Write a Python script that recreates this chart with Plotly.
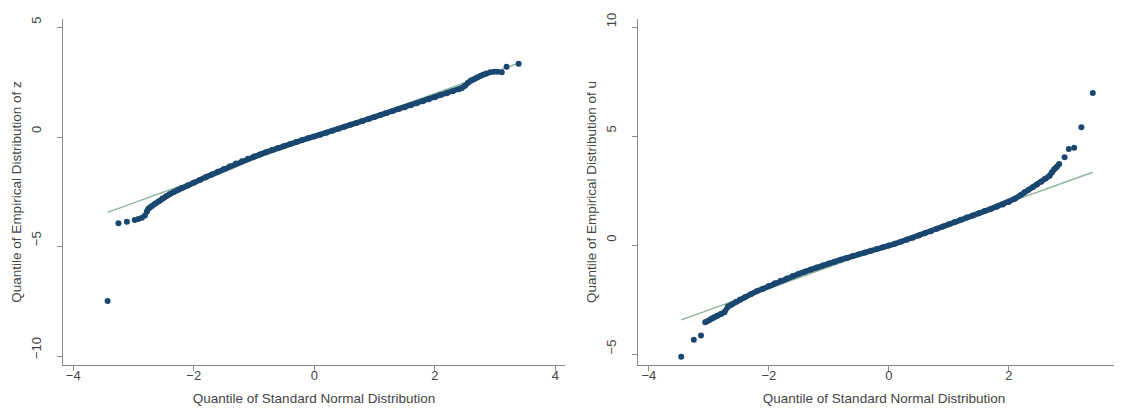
import plotly.graph_objects as go

# ---------------- data ----------------
# Left panel: z
z_theo = [-3.43, -3.25, -3.11, -2.98, -2.92, -2.86, -2.81, -2.78, -2.75, -2.70,
          -2.64, -2.58, -2.52, -2.46, -2.40, -2.33, -2.26, -2.20,
          -2.1, -2.0, -1.9, -1.8, -1.7, -1.6, -1.5, -1.4, -1.3, -1.2, -1.1, -1.0,
          -0.9, -0.8, -0.7, -0.6, -0.5, -0.4, -0.3, -0.2, -0.1, 0.0,
          0.1, 0.2, 0.3, 0.4, 0.5, 0.6, 0.7, 0.8, 0.9, 1.0,
          1.1, 1.2, 1.3, 1.4, 1.5, 1.6, 1.7, 1.8, 1.9, 2.0,
          2.1, 2.2, 2.3, 2.4, 2.45, 2.50, 2.55, 2.60, 2.65, 2.70,
          2.75, 2.80, 2.86, 2.92, 2.98, 3.04, 3.11, 3.19, 3.39]
z_emp = [-7.48, -3.93, -3.86, -3.78, -3.74, -3.68, -3.58, -3.40, -3.25, -3.15,
         -3.03, -2.92, -2.80, -2.70, -2.60, -2.50, -2.40, -2.32,
         -2.20, -2.08, -1.95, -1.82, -1.70, -1.57, -1.45, -1.32, -1.20, -1.09, -0.98, -0.88,
         -0.78, -0.68, -0.58, -0.49, -0.40, -0.30, -0.21, -0.12, -0.04, 0.04,
         0.12, 0.21, 0.30, 0.39, 0.48, 0.57, 0.66, 0.75, 0.84, 0.93,
         1.02, 1.11, 1.20, 1.29, 1.38, 1.47, 1.56, 1.65, 1.74, 1.83,
         1.93, 2.02, 2.11, 2.20, 2.26, 2.36, 2.50, 2.60, 2.66, 2.74,
         2.80, 2.86, 2.92, 2.98, 3.00, 3.00, 2.97, 3.23, 3.36]
z_ref_x = [-3.43, 3.39]
z_ref_y = [-3.43, 3.39]
z_band = (7, 73)   # index span where the points merge into a solid band

# Right panel: u
u_theo = [-3.46, -3.25, -3.13, -3.06, -3.00, -2.95, -2.91, -2.86, -2.80, -2.74,
          -2.68, -2.62, -2.55, -2.48, -2.40, -2.30, -2.20,
          -2.1, -2.0, -1.9, -1.8, -1.7, -1.6, -1.5, -1.4, -1.3, -1.2, -1.1, -1.0,
          -0.9, -0.8, -0.7, -0.6, -0.5, -0.4, -0.3, -0.2, -0.1, 0.0,
          0.1, 0.2, 0.3, 0.4, 0.5, 0.6, 0.7, 0.8, 0.9, 1.0,
          1.1, 1.2, 1.3, 1.4, 1.5, 1.6, 1.7, 1.8, 1.9, 2.0,
          2.1, 2.2, 2.26, 2.33, 2.40, 2.47, 2.54, 2.61, 2.68, 2.72,
          2.76, 2.80, 2.84, 2.93, 3.00, 3.09, 3.21, 3.40]
u_emp = [-5.08, -4.30, -4.11, -3.50, -3.42, -3.33, -3.27, -3.20, -3.12, -3.04,
         -2.78, -2.68, -2.57, -2.46, -2.35, -2.21, -2.08,
         -1.96, -1.84, -1.71, -1.60, -1.49, -1.38, -1.28, -1.18, -1.08, -0.99, -0.90, -0.81,
         -0.72, -0.63, -0.55, -0.46, -0.38, -0.30, -0.22, -0.14, -0.06, 0.02,
         0.10, 0.19, 0.29, 0.38, 0.48, 0.58, 0.68, 0.79, 0.89, 1.00,
         1.10, 1.20, 1.30, 1.40, 1.50, 1.60, 1.70, 1.80, 1.90, 2.02,
         2.16, 2.34, 2.46, 2.58, 2.69, 2.82, 2.95, 3.08, 3.22, 3.38,
         3.53, 3.62, 3.76, 4.07, 4.45, 4.50, 5.44, 7.02]
u_ref_x = [-3.46, 3.40]
u_ref_y = [-3.39, 3.38]
u_band = (3, 72)

x_ticks = [-4, -2, 0, 2, 4]
z_ticks = [-10, -5, 0, 5]
u_ticks = [-5, 0, 5, 10]

x_title = "Quantile of Standard Normal Distribution"
z_title = "Quantile of Empirical Distribution of z"
u_title = "Quantile of Empirical Distribution of u"

# ---------------- styling ----------------
NAVY = "#1a476f"
GREEN = "#8fb59c"
AXIS = "#8a8a8a"
TXT = "#444444"
FONT = "Liberation Sans, Arial, sans-serif"
TICK_SIZE = 13
TITLE_SIZE = 13.5

fig = go.Figure()


def add_panel(xs, ys, rx, ry, band, xa, ya):
    fig.add_trace(go.Scatter(x=rx, y=ry, mode="lines",
                             line=dict(color=GREEN, width=1.5), xaxis=xa, yaxis=ya,
                             showlegend=False, hoverinfo="skip"))
    a, b = band
    fig.add_trace(go.Scatter(x=xs[a:b], y=ys[a:b], mode="lines",
                             line=dict(color=NAVY, width=5.5), xaxis=xa, yaxis=ya,
                             showlegend=False, hoverinfo="skip"))
    fig.add_trace(go.Scatter(x=xs, y=ys, mode="markers",
                             marker=dict(color=NAVY, size=6, line=dict(width=0)),
                             xaxis=xa, yaxis=ya, showlegend=False))


add_panel(z_theo, z_emp, z_ref_x, z_ref_y, z_band, "x", "y")
add_panel(u_theo, u_emp, u_ref_x, u_ref_y, u_band, "x2", "y2")

common = dict(showgrid=False, zeroline=False, showline=True, linecolor=AXIS,
              linewidth=1, ticks="outside", ticklen=5, tickcolor=AXIS, tickwidth=1,
              tickfont=dict(family=FONT, size=TICK_SIZE, color=TXT))
tfont = dict(family=FONT, size=TITLE_SIZE, color=TXT)

fig.update_layout(
    width=1122, height=408,
    margin=dict(l=55, r=0, t=11, b=51),
    paper_bgcolor="white", plot_bgcolor="white",
    font=dict(family=FONT, size=TICK_SIZE, color=TXT),
    xaxis=dict(domain=[0, 0.4705], range=[-4.17, 4.16], tickvals=x_ticks,
               anchor="y", ticklabelstandoff=-7,
               title=dict(text=x_title, font=tfont, standoff=11),
               **common),
    yaxis=dict(domain=[0, 1], range=[-10.41, 5.41], tickvals=z_ticks,
               anchor="x", tickangle=-90, ticklabelstandoff=11, ticklabelshift=-6,
               title=dict(text=z_title, font=tfont, standoff=4),
               **common),
    xaxis2=dict(domain=[0.5389, 1], range=[-4.18, 4.02], tickvals=x_ticks,
                anchor="y2", ticklabelstandoff=-7,
                title=dict(text=x_title, font=tfont, standoff=11),
                **common),
    yaxis2=dict(domain=[0, 1], range=[-5.46, 10.41], tickvals=u_ticks,
                anchor="x2", tickangle=-90, ticklabelstandoff=11, ticklabelshift=-6,
                title=dict(text=u_title, font=tfont, standoff=4),
                **common),
)

fig.write_html("out.html")
